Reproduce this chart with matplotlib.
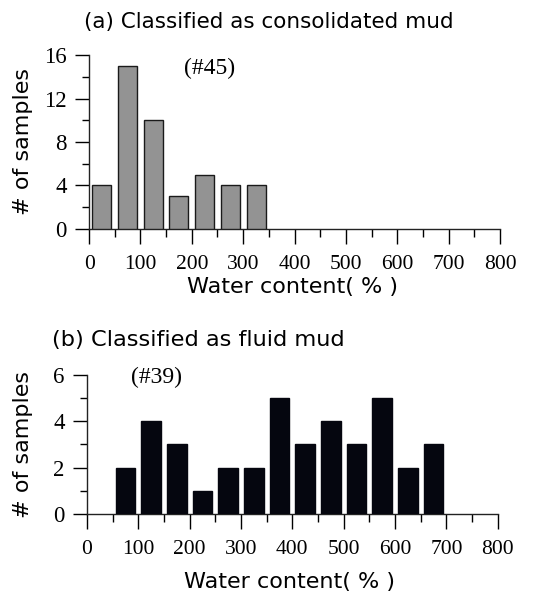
import matplotlib
matplotlib.use("Agg")
import matplotlib.pyplot as plt
from matplotlib.ticker import MultipleLocator

# bin centres (water content, %) and sample counts
centers_a = [25, 75, 125, 175, 225, 275, 325]
counts_a = [4, 15, 10, 3, 5, 4, 4]
centers_b = [75, 125, 175, 225, 275, 325, 375, 425, 475, 525, 575, 625, 675]
counts_b = [2, 4, 3, 1, 2, 2, 5, 3, 4, 3, 5, 2, 3]

xticks = [0, 100, 200, 300, 400, 500, 600, 700, 800]

serif = "Liberation Serif"
sans = "DejaVu Sans"

fig = plt.figure(figsize=(5.5, 5.99), dpi=100)
ax1 = fig.add_axes([0.162, 0.618, 0.747, 0.290])
ax2 = fig.add_axes([0.158, 0.1425, 0.747, 0.231])


def style(ax, ymax, ymajor, yminor, xlab_y, ylab_x):
    ax.set_xlim(0, 800)
    ax.set_ylim(0, ymax)
    for s in ("top", "right"):
        ax.spines[s].set_visible(False)
    for s in ("left", "bottom"):
        ax.spines[s].set_color("#222222")
        ax.spines[s].set_linewidth(1.0)
    ax.set_xticks(xticks)
    ax.xaxis.set_minor_locator(MultipleLocator(50))
    ax.yaxis.set_major_locator(MultipleLocator(ymajor))
    ax.yaxis.set_minor_locator(MultipleLocator(yminor))
    ax.tick_params(axis="x", which="major", direction="out", length=11, width=1.0, pad=8)
    ax.tick_params(axis="x", which="minor", direction="out", length=6, width=1.0)
    ax.tick_params(axis="y", which="major", direction="out", length=10, width=1.0, pad=6)
    ax.tick_params(axis="y", which="minor", direction="out", length=5, width=1.0)
    for lab in ax.get_xticklabels():
        lab.set_fontfamily(serif)
        lab.set_fontsize(15.5)
    for lab in ax.get_yticklabels():
        lab.set_fontfamily(serif)
        lab.set_fontsize(16.5)
    ax.set_xlabel("Water content( % )", family=sans, fontsize=16)
    ax.set_ylabel("# of samples", family=sans, fontsize=16)
    ax.xaxis.set_label_coords(0.494, xlab_y)
    ax.yaxis.set_label_coords(ylab_x, 0.5)


# (a) consolidated mud
ax1.bar(centers_a, counts_a, width=37, color="#939393", edgecolor="#1a1a1a", linewidth=1.0, zorder=3)
style(ax1, 16, 4, 2, -0.275, -0.136)
ax1.text(235, 14.8, "(#45)", family=serif, fontsize=17, ha="center", va="center")
fig.text(0.153, 0.963, "(a) Classified as consolidated mud", family=sans, fontsize=15.5,
         ha="left", va="center")

# (b) fluid mud
ax2.bar(centers_b, counts_b, width=38, color="#05060f", edgecolor="#05060f", linewidth=1.0, zorder=3)
style(ax2, 6, 2, 1, -0.42, -0.131)
ax2.text(136, 5.9, "(#39)", family=serif, fontsize=17, ha="center", va="center")
fig.text(0.095, 0.432, "(b) Classified as fluid mud", family=sans, fontsize=16.2,
         ha="left", va="center")

fig.savefig("out.png", dpi=100)
plt.close(fig)
